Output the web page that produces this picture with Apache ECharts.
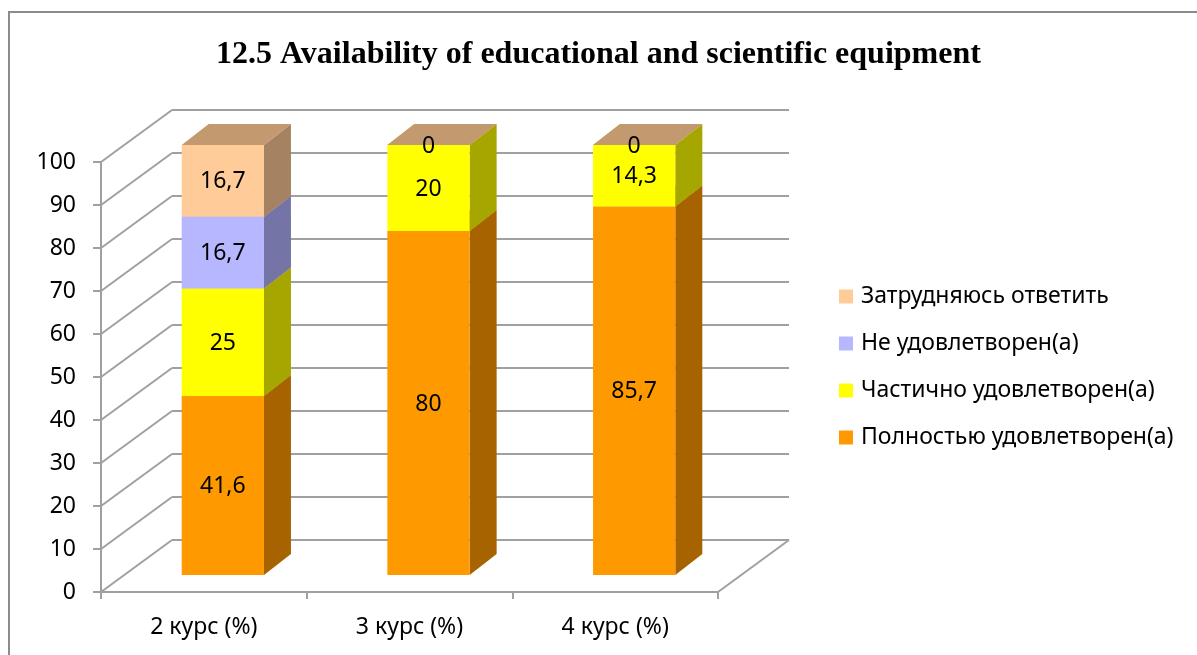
<!DOCTYPE html>
<html>
<head>
<meta charset="utf-8">
<script src="https://cdn.jsdelivr.net/npm/echarts@6/dist/echarts.min.js"></script>
<style>
  html, body { margin: 0; padding: 0; background: #fff; }
  #chart { width: 1197px; height: 655px; }
</style>
</head>
<body>
<div id="chart"></div>
<script>
// данные
const categories = ['2 курс (%)', '3 курс (%)', '4 курс (%)'];
const yTicks = [0, 10, 20, 30, 40, 50, 60, 70, 80, 90, 100];
const fullySatisfied = [41.6, 80, 85.7];
const partlySatisfied = [25, 20, 14.3];
const notSatisfied = [16.7, null, null];
const hardToSay = [16.7, 0, 0];

// псевдо-3D геометрия (пиксели)
const WALL_DEPTH = [71, -52];
const BAR_SHIFT = [19, -17];
const BAR_DEPTH = [27, -21];
const BAR_RATIO = 0.4;
const GRID_COLOR = '#a0a0a0';
const FONT = '"Noto Sans", "DejaVu Sans", sans-serif';
const FONT_SIZE = 23;

// снизу вверх
const layers = [
  { name: 'Полностью удовлетворен(а)', values: fullySatisfied, front: '#FF9900', side: '#A66300', top: '#CC7A00' },
  { name: 'Частично удовлетворен(а)', values: partlySatisfied, front: '#FFFF00', side: '#A6A600', top: '#CCCC00' },
  { name: 'Не удовлетворен(а)', values: notSatisfied, front: '#B7B7FF', side: '#7474A6', top: '#9292CC' },
  { name: 'Затрудняюсь ответить', values: hardToSay, front: '#FFCC99', side: '#A58262', top: '#C39A70' }
]

function fmt(v) {
  return String(v).replace('.', ',')
}

const chart = echarts.init(document.getElementById('chart'))

// накопление базы для стека
let bases = categories.map(() => 0)
const barSeries = layers.map(layer => {
  const data = []
  layer.values.forEach((v, i) => {
    if (v === null) return
    data.push([i, bases[i], v])
    bases[i] += v
  })
  return {
    name: layer.name,
    type: 'custom',
    xAxisIndex: 0,
    yAxisIndex: 0,
    itemStyle: { color: layer.front },
    encode: { x: 0, y: 1 },
    data: data,
    renderItem(params, api) {
      const i = api.value(0), base = api.value(1), v = api.value(2)
      const band = api.size([1, 0])[0]
      const w = band * BAR_RATIO
      const pb = api.coord([i, base])
      const pt = api.coord([i, base + v])
      const x0 = pb[0] - w / 2 + BAR_SHIFT[0], x1 = x0 + w
      const yb = pb[1] + BAR_SHIFT[1], yt = pt[1] + BAR_SHIFT[1]
      const dx = BAR_DEPTH[0], dy = BAR_DEPTH[1]
      return {
        type: 'group',
        children: [
          { type: 'polygon', shape: { points: [[x1, yb], [x1 + dx, yb + dy], [x1 + dx, yt + dy], [x1, yt]] }, style: { fill: layer.side } },
          { type: 'polygon', shape: { points: [[x0, yt], [x1, yt], [x1 + dx, yt + dy], [x0 + dx, yt + dy]] }, style: { fill: layer.top } },
          { type: 'rect', shape: { x: x0, y: yt, width: w, height: yb - yt }, style: { fill: layer.front } },
          {
            type: 'text',
            style: {
              text: fmt(v), x: (x0 + x1) / 2, y: (yt + yb) / 2 + 1,
              align: 'center', verticalAlign: 'middle',
              font: FONT_SIZE + 'px ' + FONT, fill: '#000'
            }
          }
        ]
      }
    }
  }
})

// левая стенка и пол
const wallSeries = {
  type: 'custom',
  xAxisIndex: 0,
  yAxisIndex: 0,
  silent: true,
  z: 1,
  encode: { x: 0, y: 1 },
  data: yTicks.map(v => [0, v]),
  renderItem(params, api) {
    const cs = params.coordSys
    const v = api.value(1)
    const y = api.coord([0, v])[1]
    const lineStyle = { stroke: GRID_COLOR, lineWidth: 2 }
    const children = [
      { type: 'line', shape: { x1: cs.x, y1: y, x2: cs.x + WALL_DEPTH[0], y2: y + WALL_DEPTH[1] }, style: lineStyle }
    ]
    if (v === 0) {
      children.push({ type: 'line', shape: { x1: cs.x + cs.width, y1: y, x2: cs.x + cs.width + WALL_DEPTH[0], y2: y + WALL_DEPTH[1] }, style: lineStyle })
    }
    return { type: 'group', children: children }
  }
}

const option = {
  animation: false,
  backgroundColor: '#fff',
  title: {
    text: '12.5 Availability of educational and scientific equipment',
    left: 'center',
    top: 34,
    textStyle: { fontFamily: '"Liberation Serif", serif', fontWeight: 'bold', fontSize: 32, color: '#000' }
  },
  graphic: [
    { type: 'rect', shape: { x: 9, y: 12, width: 1300, height: 800 }, style: { fill: null, stroke: '#8c8c8c', lineWidth: 2 }, silent: true }
  ],
  legend: {
    orient: 'vertical',
    left: 839,
    top: 285,
    padding: 0,
    itemWidth: 14,
    itemHeight: 14,
    itemGap: 24,
    icon: 'rect',
    selectedMode: false,
    data: ['Затрудняюсь ответить', 'Не удовлетворен(а)', 'Частично удовлетворен(а)', 'Полностью удовлетворен(а)'],
    textStyle: { fontFamily: FONT, fontSize: FONT_SIZE, color: '#000', padding: [0, 0, 0, 3] }
  },
  grid: [
    { left: 101, right: 479, top: 162, bottom: 63 },
    { left: 172, right: 408, top: 110, bottom: 115 }
  ],
  xAxis: [
    {
      gridIndex: 0,
      type: 'category',
      data: categories,
      axisLine: { lineStyle: { color: GRID_COLOR, width: 2 } },
      axisTick: { show: true, length: 7, lineStyle: { color: GRID_COLOR, width: 2 } },
      axisLabel: { margin: 24, fontFamily: FONT, fontSize: FONT_SIZE, color: '#000' },
      splitLine: { show: false }
    },
    {
      gridIndex: 1,
      type: 'category',
      data: categories,
      axisLine: { show: false },
      axisTick: { show: false },
      axisLabel: { show: false }
    }
  ],
  yAxis: [
    {
      gridIndex: 0,
      type: 'value',
      min: 0,
      max: 100,
      interval: 10,
      axisLine: { show: true, lineStyle: { color: GRID_COLOR, width: 2 } },
      axisTick: { show: true, length: 8, lineStyle: { color: GRID_COLOR, width: 2 } },
      axisLabel: { margin: 25, fontFamily: FONT, fontSize: FONT_SIZE, color: '#000', padding: [5, 0, 0, 0] },
      splitLine: { show: false }
    },
    {
      gridIndex: 1,
      type: 'value',
      min: 0,
      max: 100,
      interval: 10,
      axisLine: { show: false },
      axisTick: { show: false },
      axisLabel: { show: false },
      splitLine: { show: true, lineStyle: { color: GRID_COLOR, width: 2 } }
    }
  ],
  series: [wallSeries].concat(barSeries)
}

chart.setOption(option)
</script>
</body>
</html>
